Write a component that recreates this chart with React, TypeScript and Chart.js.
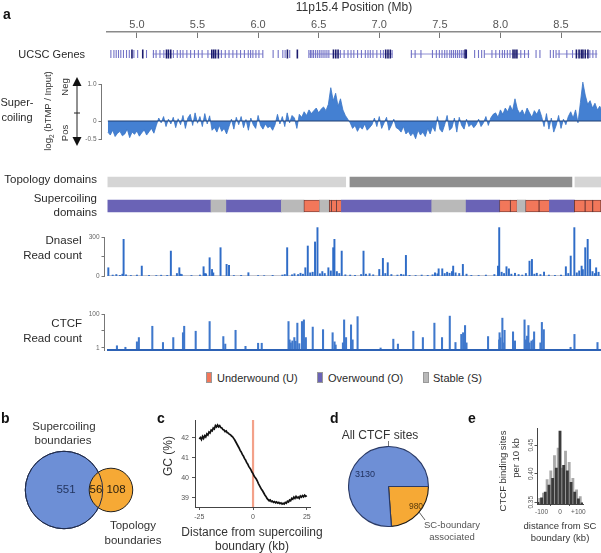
import React, { useEffect, useRef } from "react";
import { Chart, registerables } from "chart.js";

Chart.register(...registerables);

const FONT = '"Liberation Sans", Arial, Helvetica, sans-serif';
Chart.defaults.font.family = FONT;

// ---------------- Panel a: genomic tracks (Mb) ----------------
const genomeMin = 4.753;
const genomeMax = 8.83;
const positionTicks = [5.0, 5.5, 6.0, 6.5, 7.0, 7.5, 8.0, 8.5];

const geneBodies: number[][] = [
  [5.13, 5.96], [5.96, 6.04], [6.42, 6.7], [6.7, 7.11], [7.26, 7.44], [7.44, 7.72],
  [7.87, 7.99], [8.0, 8.24], [8.46, 8.6], [8.6, 8.8],
];
const exonsLight = [
  4.785, 4.81, 4.829, 4.848, 4.867, 4.889, 4.914, 4.937, 4.975, 5.006, 5.079, 5.136, 5.158, 5.19, 5.222,
  5.301, 5.333, 5.358, 5.38, 5.412, 5.443, 5.475, 5.507, 5.538, 5.586, 5.697, 5.729, 5.76, 5.792, 5.824,
  5.855, 5.887, 5.919, 5.938, 5.957, 5.982, 6.007, 6.039, 6.124, 6.166, 6.204, 6.223, 6.261, 6.419, 6.432,
  6.444, 6.457, 6.473, 6.489, 6.505, 6.52, 6.536, 6.552, 6.568, 6.584, 6.679, 6.71, 6.742, 6.767, 6.79,
  6.821, 6.853, 6.885, 6.907, 6.926, 6.948, 6.98, 7.011, 7.034, 7.106, 7.265, 7.296, 7.344, 7.439, 7.471,
  7.496, 7.518, 7.54, 7.559, 7.582, 7.597, 7.613, 7.629, 7.645, 7.661, 7.677, 7.692, 7.787, 7.819, 7.845,
  7.867, 7.93, 7.962, 7.993, 8.016, 8.034, 8.057, 8.079, 8.168, 8.199, 8.231, 8.294, 8.326, 8.412, 8.437,
  8.459, 8.484, 8.548, 8.595, 8.738, 8.763, 8.789,
];
const exonsDark = [
  4.959, 5.048, 5.244, 5.26, 5.279, 5.618, 5.634, 5.649, 5.672, 6.242, 6.324, 6.622, 6.641, 6.66, 7.053,
  7.072, 7.091, 7.708, 7.718, 8.104, 8.12, 8.136, 8.627, 8.649, 8.668, 8.681, 8.7, 8.722,
];

// supercoiling log2(bTMP/Input), bins of 0.02 Mb starting at 4.76 Mb
const scStartMb = 4.76;
const scStepMb = 0.02;
const supercoiling = [
  -0.3, -0.38, -0.25, -0.42, -0.33, -0.28, -0.4, -0.35, -0.22, -0.45, -0.3, -0.36, -0.27, -0.41, -0.32, -0.24, -0.38, -0.29, -0.2, -0.33,
  -0.12, 0.08, -0.05, 0.12, -0.15, 0.05, -0.08, 0.1, -0.18, 0.06,
  -0.1, 0.15, -0.2, 0.08, 0.18, -0.12, 0.22, -0.06, 0.12, -0.15,
  0.2, -0.08, 0.14, -0.25, -0.18, -0.3, -0.12, -0.28, -0.2, -0.35,
  -0.15, 0.05, -0.22, 0.1, -0.1, 0.12, -0.18, 0.04, -0.25, 0.08,
  -0.1, -0.2, 0.15, -0.12, -0.22, -0.08, -0.18, -0.14, -0.25, -0.1,
  0.18, -0.08, 0.12, -0.15, 0.22, -0.05, 0.15, 0.08, -0.2, 0.18,
  0.1, 0.25, 0.15, 0.3, 0.2, 0.28, 0.35, 0.22, 0.32, 0.38,
  0.28, 0.45, 0.9, 0.55, 0.75, 0.4, 0.6, 0.3, 0.15, 0.05,
  -0.05, -0.2, -0.12, -0.28, -0.15, -0.22, -0.08, -0.25, -0.18, -0.1,
  0.08, -0.15, 0.12, -0.2, -0.05, 0.1, -0.25, -0.12, 0.05, -0.18,
  -0.22, -0.3, -0.15, -0.35, -0.28, -0.4, -0.32, -0.48, -0.25, -0.38,
  -0.3, -0.42, -0.2, -0.35, -0.15, -0.28, 0.12, -0.22, -0.3, -0.1,
  0.15, -0.25, -0.18, 0.08, -0.3, 0.1, -0.12, -0.22, 0.05, -0.15,
  -0.08, -0.18, -0.1, 0.05, -0.15, -0.05, 0.12, -0.12, 0.08, 0.18,
  0.22, 0.1, 0.3, 0.18, 0.35, 0.25, 0.42, 0.28, 0.6, 0.32,
  0.2, 0.3, 0.15, 0.35, 0.22, 0.1, 0.28, 0.18, 0.32, 0.12,
  -0.15, 0.2, -0.22, 0.08, -0.3, -0.12, 0.15, -0.2, 0.05, -0.1,
  0.12, 0.25, 0.08, 0.3, -0.05, 0.5, 1.05, 0.7, 0.45, 0.55,
  0.35, 0.48, 0.3, 0.4, 0.25,
];
const scTicks = [-0.5, 0, 1.0];

// topology domains
const topoStart = [4.76, 6.758, 8.615];
const topoEnd = [6.723, 8.59, 8.83];
const topoShade = ["#d5d5d5", "#8f8f8f", "#d5d5d5"];

// supercoiling domains: U underwound, O overwound, S stable
const scDomStart = [4.76, 5.611, 5.739, 6.192, 6.378, 6.508, 6.587, 6.606, 6.647, 6.688, 7.433, 7.717, 7.993, 8.082, 8.139, 8.208, 8.319, 8.405, 8.61, 8.699, 8.762];
const scDomEnd = [5.611, 5.739, 6.192, 6.378, 6.508, 6.587, 6.606, 6.647, 6.688, 7.433, 7.717, 7.993, 8.082, 8.139, 8.208, 8.319, 8.405, 8.61, 8.699, 8.762, 8.83];
const scDomType = ["O", "S", "O", "S", "U", "S", "U", "U", "U", "O", "S", "O", "U", "U", "S", "U", "U", "O", "U", "U", "U"];
const domainColors: Record<string, string> = { U: "#f2775a", O: "#6a63b6", S: "#b9b9b9" };

// DnaseI read counts
const dnasePos = [
  4.764, 4.89, 5.04, 5.28, 5.35, 5.55, 5.6, 5.62, 5.69, 5.74, 5.76, 5.92, 6.24, 6.39, 6.41, 6.47, 6.49, 6.58, 6.62, 6.63,
  6.69, 6.87, 7.0, 7.03, 7.07, 7.22, 7.49, 7.52, 7.61, 7.69, 7.98, 7.99, 8.05, 8.07, 8.24, 8.26, 8.36, 8.54, 8.58, 8.61,
  8.67, 8.7, 8.72, 8.74, 8.79,
  4.8, 4.83, 4.86, 4.88, 4.91, 4.95, 5.0, 5.1, 5.16, 5.2, 5.25, 5.33, 5.36, 5.37, 5.45, 5.52, 5.56, 5.57, 5.63, 5.8,
  5.86, 6.0, 6.05, 6.12, 6.2, 6.22, 6.28, 6.3, 6.33, 6.35, 6.37, 6.43, 6.45, 6.51, 6.53, 6.55, 6.6, 6.65, 6.67, 6.72,
  6.76, 6.8, 6.85, 6.89, 6.92, 6.95, 7.05, 7.1, 7.15, 7.18, 7.2, 7.25, 7.3, 7.35, 7.4, 7.44, 7.46, 7.48, 7.54, 7.56,
  7.58, 7.6, 7.63, 7.66, 7.72, 7.76, 7.82, 7.88, 7.95, 8.01, 8.03, 8.09, 8.12, 8.15, 8.18, 8.21, 8.28, 8.3, 8.33, 8.4,
  8.45, 8.5, 8.56, 8.63, 8.65, 8.68, 8.76, 8.78, 8.81,
];
const dnaseCount = [
  64, 282, 77, 192, 64, 72, 141, 51, 218, 90, 82, 26, 218, 64, 231, 262, 372, 64, 218, 282,
  192, 192, 51, 136, 103, 159, 56, 56, 77, 90, 77, 372, 72, 56, 115, 128, 31, 72, 154, 372,
  77, 218, 282, 128, 64,
  8, 12, 6, 15, 10, 5, 8, 6, 5, 7, 6, 20, 15, 12, 5, 8, 20, 18, 25, 5,
  6, 5, 4, 6, 8, 12, 10, 18, 12, 22, 15, 25, 30, 18, 35, 20, 40, 35, 20, 10,
  8, 6, 12, 15, 18, 10, 20, 12, 8, 14, 10, 6, 5, 8, 6, 10, 25, 18, 20, 30,
  22, 35, 25, 20, 15, 6, 5, 8, 12, 30, 20, 15, 22, 12, 8, 20, 15, 22, 12, 8,
  6, 8, 20, 25, 40, 50, 35, 20, 30,
];
const dnaseTicks = [0, 150, 300];

// CTCF read counts (log scale)
const ctcfPos = [
  4.835, 4.905, 5.0, 5.016, 5.127, 5.215, 5.3, 5.38, 5.39, 5.485, 5.6, 5.713, 5.729, 5.814, 5.896, 6.0, 6.03, 6.251, 6.283, 6.299,
  6.324, 6.362, 6.378, 6.394, 6.451, 6.536, 6.615, 6.631, 6.71, 6.726, 6.767, 6.821, 7.011, 7.116, 7.154, 7.281, 7.36, 7.455, 7.518, 7.582,
  7.629, 7.677, 7.692, 7.708, 7.898, 7.993, 8.016, 8.034, 8.104, 8.12, 8.199, 8.231, 8.256, 8.278, 8.342, 8.358, 8.579, 8.611, 8.801,
  6.26, 6.27, 6.31, 6.34, 6.39, 6.64, 6.7, 6.78, 7.7, 7.72, 7.99, 8.0, 8.02, 8.21, 8.22, 8.24, 8.27, 8.33,
];
const ctcfCount = [
  1.35, 1.1, 2.3, 4.1, 19, 2.1, 4.1, 7.9, 19, 9.7, 36, 4.7, 1.7, 11, 1.25, 1.9, 1.9, 36, 2.6, 4.1,
  29, 36, 45, 4.1, 17, 12, 7.9, 2.3, 45, 4.1, 23, 70, 1.0, 3.3, 1.7, 9.7, 4.1, 29, 4.1, 75,
  2.1, 6.3, 7.9, 21, 4.7, 7.9, 57, 11, 8.9, 2.6, 45, 21, 2.6, 8.9, 32, 12, 1.1, 6.3, 2.1,
  3, 2, 2.5, 1.8, 3, 1.5, 2, 3, 3, 2, 3, 4, 2, 3, 5, 2, 3, 2,
];
const ctcfTicks = [1, 10, 100];
const ctcfBase = 0.75;

// ---------------- Panel b: Venn ----------------
const vennSupercoilingOnly = 551;
const vennShared = 56;
const vennTopologyOnly = 108;

// ---------------- Panel c: GC content ----------------
const gcStartKb = -25;
const gcStepKb = 0.5;
const gcPercent = [
  41.95, 42.02, 41.92, 42.08, 41.98, 42.12, 42.05, 42.2, 42.14, 42.3, 42.25, 42.4, 42.36, 42.5, 42.45, 42.62, 42.55, 42.65, 42.56, 42.62,
  42.52, 42.5, 42.42, 42.4, 42.32, 42.35, 42.26, 42.25, 42.18, 42.16, 42.1, 42.06, 41.98, 41.9, 41.8, 41.7, 41.6, 41.5, 41.38, 41.3,
  41.18, 41.1, 40.98, 40.9, 40.78, 40.7, 40.58, 40.5, 40.42, 40.3, 40.22, 40.1, 40.02, 39.95, 39.85, 39.72, 39.62, 39.52, 39.42, 39.35,
  39.25, 39.15, 39.08, 38.98, 38.92, 38.86, 38.9, 38.82, 38.85, 38.78, 38.82, 38.76, 38.8, 38.74, 38.78, 38.72, 38.76, 38.7, 38.74, 38.7,
  38.78, 38.74, 38.84, 38.8, 38.9, 38.86, 38.98, 38.94, 39.05, 38.98, 39.08, 39.0, 39.05, 38.98, 39.1, 39.04, 39.12, 39.06, 39.14, 39.08,
  39.12,
];
const gcXTicks = [-25, 0, 25];
const gcYTicks = [39, 40, 41, 42];

// ---------------- Panel d: pie ----------------
const pieLabels = ["SC-boundary associated", "Other CTCF sites"];
const pieValues = [980, 3130];

// ---------------- Panel e: histogram ----------------
const eDarkKb = [-120, -100, -80, -60, -40, -20, 0, 20, 40, 60, 80, 100, 120];
const eDarkVal = [0.35, 0.358, 0.368, 0.38, 0.392, 0.41, 0.475, 0.415, 0.405, 0.385, 0.368, 0.356, 0.349];
const eLightKb = [-110, -90, -70, -50, -30, -10, 10, 30, 50, 70, 90, 110];
const eLightVal = [0.357, 0.366, 0.39, 0.405, 0.432, 0.445, 0.41, 0.44, 0.42, 0.392, 0.372, 0.36];
const eYTicks = [0.35, 0.4, 0.45];
const eXTicks = [-100, 0, 100];

// ---------------- layout helpers ----------------
const W = 601;
const TRACK_LEFT = 107;
const pxPerMb = (W - TRACK_LEFT) / (genomeMax - genomeMin);
const xMinFor = (left: number) => genomeMax - (W - left) / pxPerMb;

const baseOpts = (extra: any) => {
  const { layout, ...rest } = extra;
  return {
    animation: false,
    responsive: false,
    devicePixelRatio: 1,
    events: [],
    layout: { autoPadding: false, ...(layout || {}) },
    plugins: { legend: { display: false }, tooltip: { enabled: false }, title: { display: false } },
    ...rest,
  };
};

const fixedTicks = (vals: number[]) => (s: any) => {
  s.ticks = vals.map((v) => ({ value: v }));
};

function ChartBox({ left, top, width, height, make }: any) {
  const ref = useRef<HTMLCanvasElement>(null);
  useEffect(() => {
    const chart = new Chart(ref.current as HTMLCanvasElement, make());
    return () => chart.destroy();
  }, []);
  return (
    <canvas
      ref={ref}
      width={width}
      height={height}
      style={{ position: "absolute", left, top, width, height }}
    />
  );
}

function Txt({ x, y, children, size = 11, align = "center", color = "#2a2a2a", weight = 400, rotate = 0 }: any) {
  const tx = align === "center" ? "-50%" : align === "right" ? "-100%" : "0";
  return (
    <div
      style={{
        position: "absolute",
        left: x,
        top: y,
        transform: `translate(${tx}, -50%)${rotate ? ` rotate(${rotate}deg)` : ""}`,
        fontSize: size,
        fontWeight: weight,
        color,
        whiteSpace: "nowrap",
        lineHeight: 1,
        fontFamily: FONT,
      }}
    >
      {children}
    </div>
  );
}

// ---------------- chart configs ----------------
const positionConfig = (): any => ({
  type: "line",
  data: { datasets: [] },
  options: baseOpts({
    layout: { padding: { left: TRACK_LEFT, right: 0, top: 0, bottom: 0 } },
    scales: {
      x: {
        type: "linear",
        position: "top",
        min: genomeMin,
        max: genomeMax,
        afterBuildTicks: fixedTicks(positionTicks),
        afterFit: (s: any) => { s.height = 32; },
        ticks: { callback: (v: any) => Number(v).toFixed(1), font: { size: 11 }, color: "#555", padding: 0, maxRotation: 0, autoSkip: false },
        grid: { drawTicks: false, color: "#777", lineWidth: 1 },
        border: { color: "#8a8a8a", width: 1.5 },
        title: { display: true, text: "11p15.4 Position (Mb)", font: { size: 12 }, color: "#333", padding: { top: 0, bottom: 0 } },
      },
      y: { display: false, min: 0, max: 1 },
    },
  }),
});

const genesConfig = (): any => {
  const body: any[] = [];
  geneBodies.forEach(([s, e]) => {
    body.push({ x: s, y: 0 }, { x: e, y: 0 }, { x: e, y: null });
  });
  return {
    type: "scatter",
    data: {
      datasets: [
        { type: "line", data: body, borderColor: "#9090d4", borderWidth: 1, pointRadius: 0, spanGaps: false, order: 3 },
        { data: exonsLight.map((x) => ({ x, y: 0 })), pointStyle: "line", rotation: 90, radius: 4, borderColor: "#7373c6", borderWidth: 1.1, order: 2 },
        { data: exonsDark.map((x) => ({ x, y: 0 })), pointStyle: "line", rotation: 90, radius: 4.5, borderColor: "#1b1b6e", borderWidth: 1.6, order: 1 },
      ],
    },
    options: baseOpts({
      layout: { padding: { left: TRACK_LEFT } },
      scales: {
        x: { type: "linear", display: false, min: genomeMin, max: genomeMax },
        y: { display: false, min: -1, max: 1 },
      },
    }),
  };
};

const supercoilConfig = (): any => ({
  type: "line",
  data: {
    datasets: [
      {
        data: supercoiling.map((v, i) => ({ x: scStartMb + i * scStepMb, y: v })),
        fill: "origin",
        backgroundColor: "#4480d2",
        borderColor: "#3a75c6",
        borderWidth: 0.8,
        pointRadius: 0,
        tension: 0,
        clip: false,
        order: 2,
      },
      {
        data: [{ x: scStartMb, y: 0 }, { x: genomeMax, y: 0 }],
        borderColor: "#1f3f72",
        borderWidth: 1.2,
        pointRadius: 0,
        order: 1,
      },
    ],
  },
  options: baseOpts({
    layout: { padding: { top: 14, bottom: 10.5, right: 0 } },
    scales: {
      x: { type: "linear", display: false, min: xMinFor(101), max: genomeMax },
      y: {
        min: -0.5,
        max: 1.0,
        afterFit: (s: any) => { s.width = 101; },
        afterBuildTicks: fixedTicks(scTicks),
        ticks: { font: { size: 6.5 }, color: "#666", padding: 2, callback: (v: any) => (v === 1 ? "1.0" : v === -0.5 ? "-0.5" : "0") },
        grid: { drawOnChartArea: false, tickLength: 2.5, color: "#777" },
        border: { color: "#777", width: 1 },
      },
    },
  }),
});

const floatingBarConfig = (starts: number[], ends: number[], colors: string[], thickness: number, borders: number[], borderColor: string): any => ({
  type: "bar",
  data: {
    labels: ["t"],
    datasets: [
      {
        data: starts.map((s, i) => ({ x: [s, ends[i]], y: "t" })),
        backgroundColor: colors,
        borderColor,
        borderWidth: borders,
        borderSkipped: false,
        barThickness: thickness,
      },
    ],
  },
  options: baseOpts({
    indexAxis: "y",
    layout: { padding: { left: TRACK_LEFT } },
    scales: {
      x: { type: "linear", display: false, min: genomeMin, max: genomeMax },
      y: { display: false },
    },
  }),
});

const dnaseConfig = (): any => ({
  type: "bar",
  data: {
    datasets: [
      {
        type: "line",
        data: [{ x: genomeMin, y: 0 }, { x: genomeMax, y: 0 }],
        borderColor: "#6f7386",
        borderWidth: 1,
        pointRadius: 0,
        order: 2,
      },
      {
        data: dnasePos.map((x, i) => ({ x, y: dnaseCount[i] })),
        backgroundColor: "#2f6cc7",
        barThickness: 1.3,
        clip: false,
        order: 1,
      },
    ],
  },
  options: baseOpts({
    layout: { padding: { top: 15, bottom: 5 } },
    scales: {
      x: { type: "linear", display: false, offset: false, min: xMinFor(104), max: genomeMax },
      y: {
        min: 0,
        max: 300,
        afterFit: (s: any) => { s.width = 104; },
        afterBuildTicks: fixedTicks(dnaseTicks),
        ticks: { font: { size: 6.5 }, color: "#666", padding: 2, callback: (v: any) => (v === 150 ? "" : String(v)) },
        grid: { drawOnChartArea: false, tickLength: 2.5, color: "#777" },
        border: { color: "#777", width: 1 },
      },
    },
  }),
});

const ctcfConfig = (): any => ({
  type: "bar",
  data: {
    datasets: [
      {
        type: "line",
        data: [{ x: genomeMin, y: ctcfBase }, { x: genomeMax, y: ctcfBase }],
        borderColor: "#2d62b5",
        borderWidth: 2,
        pointRadius: 0,
        clip: false,
        order: 1,
      },
      {
        data: ctcfPos.map((x, i) => ({ x, y: ctcfCount[i] })),
        base: ctcfBase,
        backgroundColor: "#3f78cc",
        barThickness: 1.4,
        clip: false,
        order: 2,
      },
    ],
  },
  options: baseOpts({
    layout: { padding: { top: 14, bottom: 4.8 } },
    scales: {
      x: { type: "linear", display: false, offset: false, min: xMinFor(104), max: genomeMax },
      y: {
        type: "logarithmic",
        min: ctcfBase,
        max: 100,
        afterFit: (s: any) => { s.width = 104; },
        afterBuildTicks: fixedTicks(ctcfTicks),
        ticks: { font: { size: 6.5 }, color: "#666", padding: 2, callback: (v: any) => (v === 10 ? "" : String(v)) },
        grid: { drawOnChartArea: false, tickLength: 2.5, color: "#777" },
        border: { color: "#777", width: 1 },
      },
    },
  }),
});

const vennConfig = (): any => {
  const k = 2.31;
  const rBlue = k * Math.pow(vennSupercoilingOnly + vennShared, 0.44);
  const rOrange = k * Math.pow(vennShared + vennTopologyOnly, 0.44);
  const lens = k * Math.pow(vennShared, 0.44);
  const blueX = 64;
  const orangeX = blueX + rBlue + rOrange - lens;
  return {
    type: "bubble",
    data: {
      datasets: [
        { data: [{ x: blueX, y: 0, r: rBlue }], backgroundColor: "#6d8fd6", borderColor: "#1f2b4c", borderWidth: 1, order: 3, clip: false },
        { data: [{ x: orangeX, y: 0, r: rOrange }], backgroundColor: "#f6a935", borderColor: "#222", borderWidth: 1, order: 2, clip: false },
        { data: [{ x: blueX, y: 0, r: rBlue }], backgroundColor: "rgba(0,0,0,0)", borderColor: "#1f2b4c", borderWidth: 1, order: 1, clip: false },
      ],
    },
    options: baseOpts({
      layout: { padding: 0 },
      scales: {
        x: { type: "linear", display: false, min: 0, max: 160 },
        y: { type: "linear", display: false, min: -50, max: 50 },
      },
    }),
  };
};

const gcConfig = (): any => ({
  type: "line",
  data: {
    datasets: [
      {
        data: gcPercent.map((v, i) => ({ x: gcStartKb + i * gcStepKb, y: v })),
        borderColor: "#111",
        borderWidth: 1.7,
        pointRadius: 0,
        tension: 0,
        order: 1,
      },
      {
        data: [{ x: 0, y: 38.55 }, { x: 0, y: 42.9 }],
        borderColor: "#f3a189",
        borderWidth: 2.2,
        pointRadius: 0,
        order: 2,
      },
    ],
  },
  options: baseOpts({
    layout: { padding: { top: 10, right: 10 } },
    scales: {
      x: {
        type: "linear",
        min: -27,
        max: 26.5,
        afterFit: (s: any) => { s.height = 15; },
        afterBuildTicks: fixedTicks(gcXTicks),
        ticks: { font: { size: 7 }, color: "#555", padding: 3, maxRotation: 0 },
        grid: { drawOnChartArea: false, tickLength: 3, color: "#555" },
        border: { color: "#444", width: 1 },
      },
      y: {
        min: 38.55,
        max: 42.9,
        afterFit: (s: any) => { s.width = 45; },
        afterBuildTicks: fixedTicks(gcYTicks),
        ticks: { font: { size: 7 }, color: "#555", padding: 3 },
        grid: { drawOnChartArea: false, tickLength: 3, color: "#555" },
        border: { color: "#444", width: 1 },
      },
    },
  }),
});

const pieConfig = (): any => ({
  type: "pie",
  data: {
    labels: pieLabels,
    datasets: [
      {
        data: pieValues,
        backgroundColor: ["#f6a935", "#6e8fd6"],
        borderColor: ["#1a1a1a", "#2a3a66"],
        borderWidth: 1.1,
      },
    ],
  },
  options: baseOpts({ rotation: 90, layout: { padding: 1 } }),
});

const rotatedYTicks = {
  id: "rotY",
  afterDraw(chart: any) {
    const s = chart.scales.y;
    const ctx = chart.ctx;
    ctx.save();
    ctx.fillStyle = "#555";
    ctx.font = `6.5px ${FONT}`;
    ctx.textAlign = "center";
    ctx.textBaseline = "middle";
    eYTicks.forEach((v) => {
      const y = s.getPixelForValue(v);
      ctx.save();
      ctx.translate(s.right - 6, y);
      ctx.rotate(-Math.PI / 2);
      ctx.fillText(v.toFixed(2), 0, 0);
      ctx.restore();
    });
    ctx.restore();
  },
};

const histConfig = (): any => ({
  type: "bar",
  data: {
    datasets: [
      { data: eDarkKb.map((x, i) => ({ x, y: eDarkVal[i] })), backgroundColor: "#3b3b3b", barThickness: 2.2, grouped: false, order: 1 },
      { data: eLightKb.map((x, i) => ({ x, y: eLightVal[i] })), backgroundColor: "#a9a9a9", barThickness: 2.2, grouped: false, order: 2 },
    ],
  },
  options: baseOpts({
    layout: { padding: { top: 5, right: 12 } },
    scales: {
      x: {
        type: "linear",
        offset: false,
        min: -125,
        max: 125,
        afterFit: (s: any) => { s.height = 14; },
        afterBuildTicks: fixedTicks(eXTicks),
        ticks: { font: { size: 6.5 }, color: "#555", padding: 2, maxRotation: 0, callback: (v: any) => (v > 0 ? "+" + v : String(v)) },
        grid: { drawOnChartArea: false, tickLength: 2, color: "#555" },
        border: { color: "#444", width: 1 },
      },
      y: {
        min: 0.347,
        max: 0.48,
        afterFit: (s: any) => { s.width = 39; },
        afterBuildTicks: fixedTicks(eYTicks),
        ticks: { callback: () => "" },
        grid: { drawOnChartArea: false, tickLength: 2.5, color: "#555" },
        border: { color: "#444", width: 1 },
      },
    },
  }),
  plugins: [rotatedYTicks],
});

const Box = ({ left, top, w, h, color }: any) => (
  <div style={{ position: "absolute", left, top, width: w, height: h, background: color, boxSizing: "border-box", border: "0.5px solid #999" }} />
);

export default function App() {
  const orangeBorders = scDomType.map((t) => (t === "U" ? 0.8 : 0));
  return (
    <div style={{ position: "absolute", left: 0, top: 0, width: 601, height: 553, background: "#fff", overflow: "hidden", fontFamily: FONT }}>
      <ChartBox left={0} top={0} width={601} height={38} make={positionConfig} />
      <ChartBox left={0} top={44} width={601} height={20} make={genesConfig} />
      <ChartBox left={0} top={70} width={601} height={80} make={supercoilConfig} />
      <ChartBox left={0} top={172} width={601} height={20} make={() => floatingBarConfig(topoStart, topoEnd, topoShade, 10, [0, 0, 0], "#000")} />
      <ChartBox left={0} top={196} width={601} height={20} make={() => floatingBarConfig(scDomStart, scDomEnd, scDomType.map((t) => domainColors[t]), 12, orangeBorders, "#5a3030")} />
      <ChartBox left={0} top={222} width={601} height={60} make={dnaseConfig} />
      <ChartBox left={0} top={300} width={601} height={56} make={ctcfConfig} />

      <ChartBox left={0} top={440} width={160} height={100} make={vennConfig} />
      <ChartBox left={150} top={410} width={170} height={112} make={gcConfig} />
      <ChartBox left={347} top={445} width={83} height={83} make={pieConfig} />
      <ChartBox left={498} top={418} width={97} height={100} make={histConfig} />

      {/* panel a labels */}
      <Txt x={3} y={14} size={14} weight={700} align="left" color="#111">a</Txt>
      <Txt x={85} y={54} size={11} align="right">UCSC Genes</Txt>
      <Txt x={17} y={102} size={11}>Super-</Txt>
      <Txt x={17} y={117} size={11}>coiling</Txt>
      <Txt x={49} y={111} size={9.5} rotate={-90} color="#333">
        log<sub style={{ fontSize: 6.5 }}>2</sub> (bTMP / Input)
      </Txt>
      <Txt x={65} y={87} size={9.5} rotate={-90} color="#333">Neg</Txt>
      <Txt x={65} y={133} size={9.5} rotate={-90} color="#333">Pos</Txt>
      <svg style={{ position: "absolute", left: 68, top: 74, width: 20, height: 76 }} width={20} height={76}>
        <line x1={9} y1={8} x2={9} y2={68} stroke="#222" strokeWidth={1} />
        <polygon points="9,3 4.5,12 13.5,12" fill="#111" />
        <polygon points="9,72 4.5,63 13.5,63" fill="#111" />
        <line x1={6} y1={39} x2={12} y2={39} stroke="#222" strokeWidth={1} />
      </svg>
      <Txt x={97} y={180} size={11.5} align="right">Topology domains</Txt>
      <Txt x={97} y={199} size={11.5} align="right">Supercoiling</Txt>
      <Txt x={97} y={213} size={11.5} align="right">domains</Txt>
      <Txt x={82} y={241} size={11.5} align="right">DnaseI</Txt>
      <Txt x={82} y={256} size={11.5} align="right">Read count</Txt>
      <Txt x={82} y={324} size={11.5} align="right">CTCF</Txt>
      <Txt x={82} y={339} size={11.5} align="right">Read count</Txt>

      {/* legend */}
      <Box left={206} top={372} w={6} h={11} color={domainColors.U} />
      <Txt x={217} y={378} size={11} align="left">Underwound (U)</Txt>
      <Box left={317} top={372} w={6} h={11} color={domainColors.O} />
      <Txt x={328} y={378} size={11} align="left">Overwound (O)</Txt>
      <Box left={423} top={372} w={6} h={11} color={domainColors.S} />
      <Txt x={433} y={378} size={11} align="left">Stable (S)</Txt>

      {/* panel b */}
      <Txt x={1} y={418} size={14} weight={700} align="left" color="#111">b</Txt>
      <Txt x={64} y={427} size={11.5} color="#333">Supercoiling</Txt>
      <Txt x={63} y={441} size={11.5} color="#333">boundaries</Txt>
      <Txt x={66} y={490} size={11.5} color="#23355f">{String(vennSupercoilingOnly)}</Txt>
      <Txt x={96} y={490} size={11.5} color="#2a2010">{String(vennShared)}</Txt>
      <Txt x={116} y={490} size={11.5} color="#2a2010">{String(vennTopologyOnly)}</Txt>
      <Txt x={133} y={526} size={11.5} color="#333">Topology</Txt>
      <Txt x={133} y={541} size={11.5} color="#333">boundaries</Txt>

      {/* panel c */}
      <Txt x={157} y={418} size={14} weight={700} align="left" color="#111">c</Txt>
      <Txt x={168} y={456} size={12} rotate={-90} color="#333">GC (%)</Txt>
      <Txt x={252} y={532} size={12} color="#333">Distance from supercoiling</Txt>
      <Txt x={252} y={546} size={12} color="#333">boundary (kb)</Txt>

      {/* panel d */}
      <Txt x={330} y={418} size={14} weight={700} align="left" color="#111">d</Txt>
      <Txt x={380} y={435} size={12} color="#333">All CTCF sites</Txt>
      <Txt x={365} y={474} size={9} color="#1f2f5c">{String(pieValues[1])}</Txt>
      <Txt x={416} y={506} size={8.5} color="#5a3a0a">{String(pieValues[0])}</Txt>
      <Txt x={452} y={525} size={9.5} color="#555">SC-boundary</Txt>
      <Txt x={452} y={537} size={9.5} color="#555">associated</Txt>
      <svg style={{ position: "absolute", left: 380, top: 436, width: 60, height: 90 }} width={60} height={90}>
        <line x1={8.5} y1={5} x2={8.5} y2={10} stroke="#555" strokeWidth={0.8} />
        <line x1={39} y1={76} x2={45} y2={84} stroke="#333" strokeWidth={0.8} />
      </svg>

      {/* panel e */}
      <Txt x={468} y={418} size={14} weight={700} align="left" color="#111">e</Txt>
      <Txt x={503} y={471} size={9.5} rotate={-90} color="#333">CTCF binding sites</Txt>
      <Txt x={516} y={458} size={9.5} rotate={-90} color="#333">per 10 kb</Txt>
      <Txt x={560} y={526} size={9.5} color="#333">distance from SC</Txt>
      <Txt x={560} y={538} size={9.5} color="#333">boundary (kb)</Txt>
    </div>
  );
}
